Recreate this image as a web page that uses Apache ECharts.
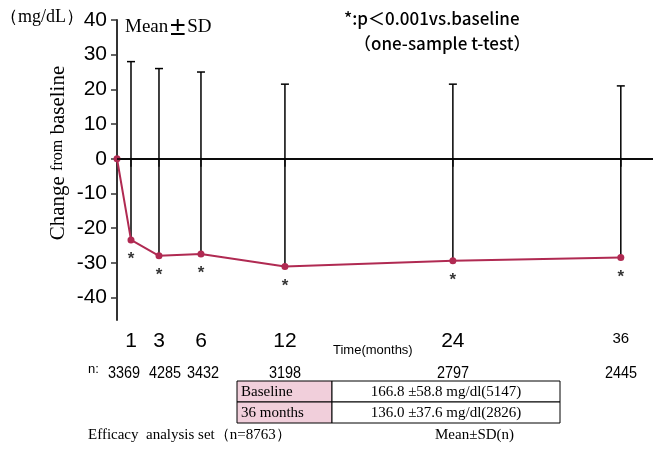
<!DOCTYPE html>
<html>
<head>
<meta charset="utf-8">
<script src="https://cdn.jsdelivr.net/npm/echarts@6/dist/echarts.min.js"></script>
<style>
  html, body { margin: 0; padding: 0; background: #fff; }
  #main { width: 653px; height: 457px; }
</style>
</head>
<body>
<div id="main"></div>
<script>
// months after start, mean change from baseline, top of the SD bar
var months = [0, 1, 3, 6, 12, 24, 36];
var meanChange = [0, -23.4, -28.0, -27.5, -31.1, -29.4, -28.5];
var sdUpper = [null, 28, 26, 25, 21.5, 21.5, 21];
var tickMonths = [1, 3, 6, 12, 24, 36];
var yTicks = [-40, -30, -20, -10, 0, 10, 20, 30, 40];
var nLabels = ['3369', '4285', '3432', '3198', '2797', '2445'];
var tableRows = [
  ['Baseline', '166.8 \u00b158.8 mg/dl(5147)'],
  ['36 months', '136.0 \u00b137.6 mg/dl(2826)']
];

var sans = '"Liberation Sans", Arial, sans-serif';
var serif = '"Liberation Serif", "DejaVu Serif", serif';
var gothic = '"Noto Sans CJK JP", sans-serif';
var red = '#b02a52';

var linePts = months.map(function (m, i) { return [m, meanChange[i]]; });
var barPts = [];
months.forEach(function (m, i) {
  if (sdUpper[i] != null) barPts.push([m, meanChange[i], sdUpper[i]]);
});
var starPts = barPts.map(function (d) { return [d[0], d[1]]; });

// n under each tick (the first three are pushed apart as in the source)
var nX = [124, 165, 203, 285, 453, 621];
var graphics = [
  { type: 'text', left: 0, top: 8, style: { text: '\uff08mg/dL\uff09', font: '18px ' + serif, fill: '#000' } },
  {
    type: 'text', left: 125, top: 18,
    style: {
      text: '{a|Mean}{b|\u00b1}{a|SD}',
      rich: {
        a: { font: '19px ' + serif, fill: '#000' },
        b: { font: 'bold 19px ' + gothic, fill: '#000' }
      }
    }
  },
  { type: 'text', left: 344, top: 10, style: { text: '*:p\uff1c0.001vs.baseline', font: '500 17px ' + gothic, fill: '#000' } },
  { type: 'text', left: 354, top: 35, style: { text: '\uff08one-sample t-test\uff09', font: '500 17px ' + gothic, fill: '#000' } },
  {
    type: 'text', x: 58, y: 153, rotation: Math.PI / 2,
    style: {
      text: '{a|Change }{b|from}{a| baseline}', align: 'center', verticalAlign: 'middle',
      rich: {
        a: { font: '21px ' + serif, fill: '#000' },
        b: { font: '16px ' + serif, fill: '#000' }
      }
    }
  },
  { type: 'text', left: 333, top: 344, style: { text: 'Time(months)', font: '13px ' + sans, fill: '#000', scaleX: 0.9 } },
  { type: 'text', left: 88, top: 363, style: { text: 'n:', font: '13px ' + sans, fill: '#000' } },
  { type: 'text', left: 88, top: 428, style: { text: 'Efficacy  analysis set\uff08n=8763\uff09', font: '15px ' + serif, fill: '#000' } },
  { type: 'text', left: 435, top: 428, style: { text: 'Mean\u00b1SD(n)', font: '15px ' + serif, fill: '#000' } }
];
nLabels.forEach(function (t, i) {
  graphics.push({
    type: 'text', x: nX[i], y: 373, scaleX: 0.85,
    style: { text: t, font: '17px ' + sans, fill: '#000', align: 'center', verticalAlign: 'middle' }
  });
});
tableRows.forEach(function (row, i) {
  var y = 381 + i * 21;
  graphics.push({ type: 'rect', shape: { x: 237, y: y, width: 95, height: 21 }, style: { fill: '#f1cfdb', stroke: '#000', lineWidth: 1 } });
  graphics.push({ type: 'rect', shape: { x: 332, y: y, width: 228, height: 21 }, style: { fill: '#fff', stroke: '#000', lineWidth: 1 } });
  graphics.push({ type: 'text', x: 241, y: y + 11, style: { text: row[0], font: '15px ' + serif, fill: '#000', verticalAlign: 'middle' } });
  graphics.push({ type: 'text', x: 446, y: y + 11, style: { text: row[1], font: '15px ' + serif, fill: '#000', align: 'center', verticalAlign: 'middle' } });
});

var chart = echarts.init(document.getElementById('main'));
chart.setOption({
  backgroundColor: '#fff',
  animation: false,
  grid: { left: 117, right: 0, top: 20, bottom: 137 },
  xAxis: {
    type: 'value', min: 0, max: 38.3,
    axisLine: { show: true, lineStyle: { color: '#333', width: 2 } },
    axisTick: { show: true, customValues: tickMonths, length: 8, inside: false, lineStyle: { color: '#333', width: 1.5 } },
    axisLabel: {
      customValues: tickMonths, margin: 11,
      formatter: function (v) { return v === 36 ? '{s|36}' : String(v); },
      fontFamily: sans, fontSize: 21, color: '#000',
      rich: { s: { fontFamily: sans, fontSize: 15, color: '#000', padding: [0, 0, 6, 0] } }
    },
    splitLine: { show: false }
  },
  yAxis: {
    type: 'value', min: -46.5, max: 40,
    axisLine: { show: true, lineStyle: { color: '#333', width: 2 } },
    axisTick: { show: true, customValues: yTicks, length: 6, lineStyle: { color: '#333', width: 1.5 } },
    axisLabel: { customValues: yTicks, margin: 10, fontFamily: sans, fontSize: 21, color: '#000' },
    splitLine: { show: false }
  },
  graphic: graphics,
  series: [
    {
      type: 'custom', z: 1,
      data: barPts,
      renderItem: function (params, api) {
        var x = api.value(0);
        var p0 = api.coord([x, api.value(1)]);
        var p1 = api.coord([x, api.value(2)]);
        var st = { stroke: '#000', lineWidth: 1.5 };
        return {
          type: 'group',
          children: [
            { type: 'line', shape: { x1: p0[0], y1: p0[1], x2: p1[0], y2: p1[1] }, style: st },
            { type: 'line', shape: { x1: p1[0] - 4, y1: p1[1], x2: p1[0] + 4, y2: p1[1] }, style: st }
          ]
        };
      }
    },
    {
      type: 'line', z: 3,
      data: linePts,
      symbol: 'circle', symbolSize: 7,
      lineStyle: { color: red, width: 2 },
      itemStyle: { color: red },
      markLine: {
        silent: true, symbol: 'none', label: { show: false },
        lineStyle: { color: '#000', width: 1.5, type: 'solid' },
        data: [{ yAxis: 0 }]
      }
    },
    {
      type: 'scatter', z: 2,
      data: starPts,
      symbolSize: 0,
      label: {
        show: true, position: 'bottom', distance: 11,
        formatter: '*', fontSize: 17, fontWeight: 'bold', fontFamily: sans, color: '#000'
      }
    }
  ]
});
</script>
</body>
</html>
